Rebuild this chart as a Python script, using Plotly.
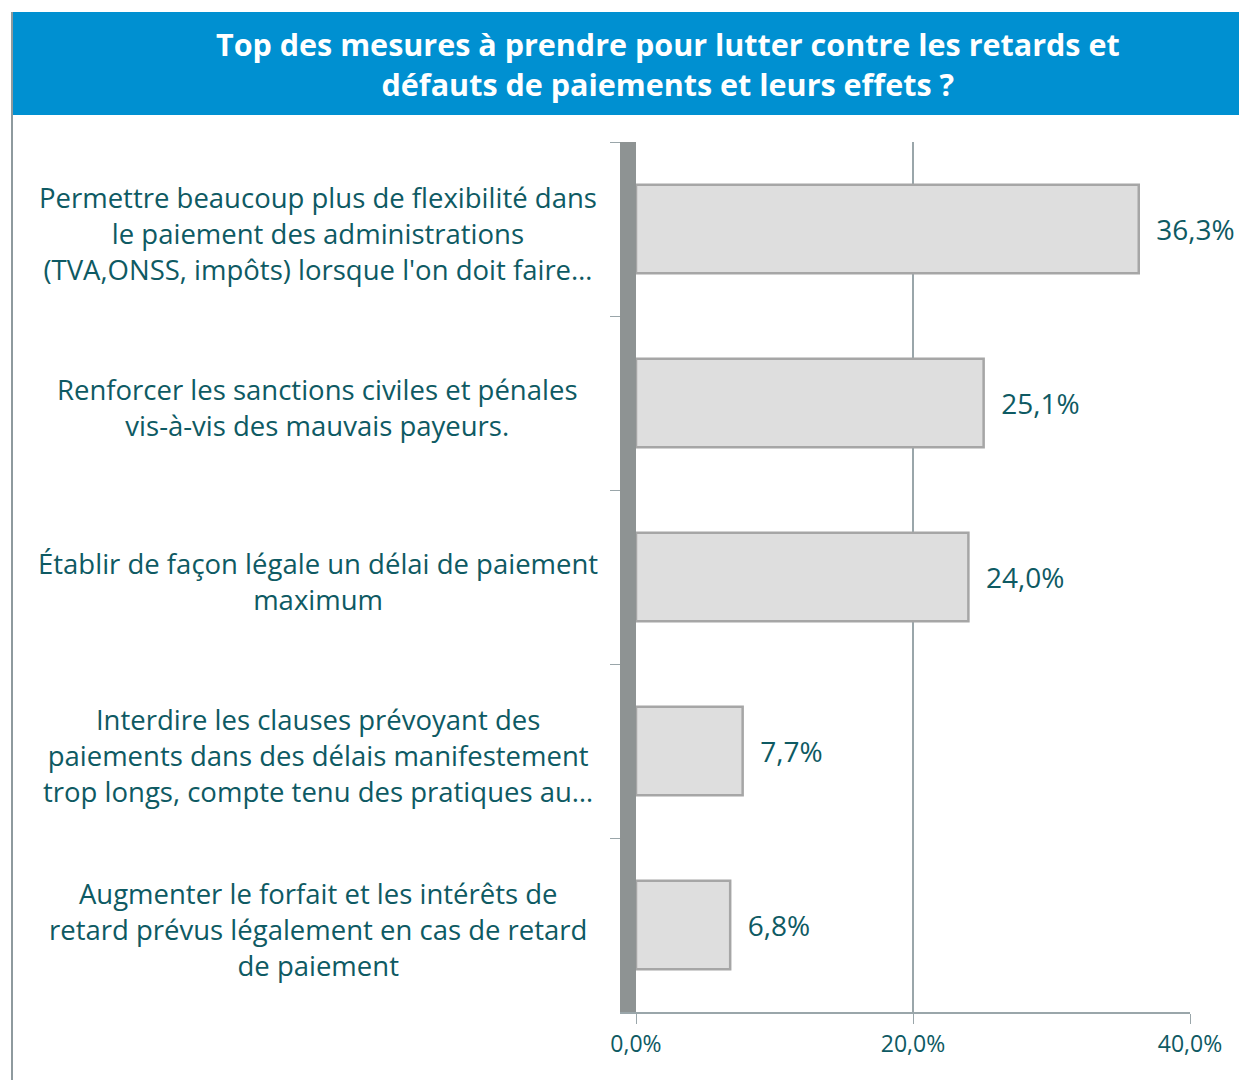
import plotly.graph_objects as go

categories = [
    "Permettre beaucoup plus de flexibilité dans<br>le paiement des administrations<br>(TVA,ONSS, impôts) lorsque l'on doit faire…",
    "Renforcer les sanctions civiles et pénales<br>vis-à-vis des mauvais payeurs.",
    "Établir de façon légale un délai de paiement<br>maximum",
    "Interdire les clauses prévoyant des<br>paiements dans des délais manifestement<br>trop longs, compte tenu des pratiques au…",
    "Augmenter le forfait et les intérêts de<br>retard prévus légalement en cas de retard<br>de paiement",
]
values = [36.3, 25.1, 24.0, 7.7, 6.8]
value_labels = ["36,3%", "25,1%", "24,0%", "7,7%", "6,8%"]
tick_vals = [0, 20, 40]
tick_text = ["0,0%", "20,0%", "40,0%"]
title_text = "Top des mesures à prendre pour lutter contre les retards et<br>défauts de paiements et leurs effets ?"

OFF = 8  # page body margin
W, H = 1247 - OFF, 1080 - OFF
# target screen pixels
X0, X40, YT, YB = 636, 1190, 142, 1012
ML = X0 - OFF
MR = W - (X40 - OFF)
MT = YT - OFF
MB = H - (YB - OFF)
PW = W - ML - MR
PH = H - MT - MB

TEXT = "#0E5A63"
FONT = "Open Sans"

def sx(px):
    return (px - OFF - ML) / PW

def sy(py):
    return 1 + (MT - (py - OFF)) / PH

fig = go.Figure()
fig.add_trace(go.Bar(
    y=categories,
    x=values,
    orientation="h",
    marker=dict(color="#DEDEDE", line=dict(color="#A6A6A6", width=2.5)),
    text=value_labels,
    texttemplate="  %{text}",
    textposition="outside",
    textfont=dict(color=TEXT, size=28, family=FONT),
    cliponaxis=False,
    width=0.51,
    hoverinfo="skip",
))

annotations = []
for c in categories:
    annotations.append(dict(
        x=sx(318), xref="paper", y=c, yref="y",
        text=c, showarrow=False, align="center",
        xanchor="center", yanchor="middle", yshift=-4,
        font=dict(color=TEXT, size=27.5, family=FONT),
    ))
annotations.append(dict(
    x=sx(668), xref="paper", y=sy(64), yref="paper",
    text="<b>" + title_text + "</b>", showarrow=False, align="center",
    xanchor="center", yanchor="middle",
    font=dict(color="white", size=30.5, family=FONT),
))

shapes = [
    dict(type="rect", xref="paper", yref="paper",
         x0=sx(11), x1=sx(1260),
         y0=sy(115), y1=sy(12),
         fillcolor="#0090D1", line=dict(width=0), layer="below"),
    dict(type="line", xref="paper", yref="paper",
         x0=sx(12), x1=sx(12),
         y0=sy(12), y1=sy(1090),
         line=dict(color="#8E9A9E", width=2)),
]

fig.update_layout(
    width=W, height=H,
    margin=dict(l=ML, r=MR, t=MT, b=MB),
    paper_bgcolor="white", plot_bgcolor="white",
    showlegend=False,
    annotations=annotations,
    shapes=shapes,
    xaxis=dict(
        range=[0, 40], tickvals=tick_vals, ticktext=tick_text,
        showgrid=True, gridcolor="#9AA6AA", gridwidth=1.5,
        showline=True, linecolor="#9AA6AA", linewidth=2,
        ticks="outside", ticklen=10, tickcolor="#9AA6AA",
        tickfont=dict(color=TEXT, size=23, family=FONT),
        zeroline=False, fixedrange=True,
    ),
    yaxis=dict(
        autorange="reversed", showticklabels=False,
        showline=True, linecolor="#8E9393", linewidth=16,
        ticks="outside", ticklen=10, tickcolor="#9AA6AA", tickson="boundaries",
        showgrid=False, zeroline=False,
    ),
    font=dict(family=FONT, color=TEXT),
)

fig.write_html("out.html")
